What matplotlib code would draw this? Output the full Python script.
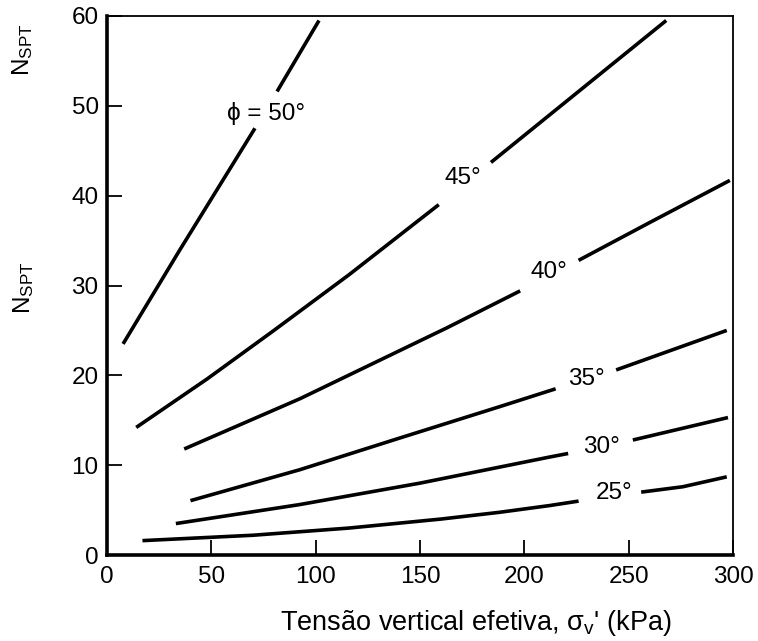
import numpy as np
import matplotlib.pyplot as plt

plt.rcParams['font.family'] = ['Liberation Sans', 'DejaVu Sans']
plt.rcParams['mathtext.fontset'] = 'custom'
plt.rcParams['mathtext.rm'] = 'Liberation Sans'
plt.rcParams['mathtext.it'] = 'Liberation Sans:italic'

# curves of N_SPT vs effective vertical stress, each split around its label
phi50_x = [[7.7, 35, 70.9], [81.5, 101.6]]
phi50_y = [[23.5, 34, 47.5], [51.6, 59.5]]
phi45_x = [[14, 48, 80, 116, 159], [184, 268]]
phi45_y = [[14.2, 19.6, 25.0, 31.2, 39.0], [43.7, 59.5]]
phi40_x = [[37, 92.5, 163, 198], [226, 260, 298.5]]
phi40_y = [[11.8, 17.4, 25.3, 29.4], [32.8, 37.0, 41.7]]
phi35_x = [[40, 92.5, 140, 188, 215], [244, 297]]
phi35_y = [[6.05, 9.5, 13.0, 16.5, 18.5], [20.6, 25]]
phi30_x = [[33, 92, 150, 212, 221], [252, 297.6]]
phi30_y = [[3.5, 5.6, 8.0, 10.9, 11.3], [12.8, 15.3]]
phi25_x = [[17, 70, 116, 160, 188, 212, 226], [256, 276, 297]]
phi25_y = [[1.6, 2.2, 3.0, 4.0, 4.75, 5.5, 6.0], [7.0, 7.6, 8.7]]

labels = ['\u03d5 = 50\u00b0', '45\u00b0', '40\u00b0', '35\u00b0', '30\u00b0', '25\u00b0']
label_x = [76, 170.6, 212, 230, 237, 243]
label_y = [49.2, 42, 31.5, 19.6, 12, 6.9]

xticks = [0, 50, 100, 150, 200, 250, 300]
yticks = [0, 10, 20, 30, 40, 50, 60]

fig = plt.figure(figsize=(7.58, 6.41), dpi=100)
ax = fig.add_axes([107/758, 1 - 555/641, 626/758, 539/641])

for xs, ys in [(phi50_x, phi50_y), (phi45_x, phi45_y), (phi40_x, phi40_y),
               (phi35_x, phi35_y), (phi30_x, phi30_y), (phi25_x, phi25_y)]:
    for sx, sy in zip(xs, ys):
        ax.plot(sx, sy, color='black', lw=2.6, solid_capstyle='butt')

for t, lx, ly in zip(labels, label_x, label_y):
    ax.text(lx, ly, t, fontsize=17.5, ha='center', va='center')

ax.set_xlim(0, 300)
ax.set_ylim(0, 60)
ax.set_xticks(xticks)
ax.set_yticks(yticks)
ax.tick_params(axis='both', direction='in', length=11, width=1.3, labelsize=17.5)
ax.tick_params(axis='x', pad=8)
ax.tick_params(axis='y', pad=6)
ax.spines['left'].set_linewidth(2.6)
ax.spines['bottom'].set_linewidth(2.6)
ax.spines['top'].set_linewidth(1.3)
ax.spines['right'].set_linewidth(1.3)

ax.set_ylabel(r'N$_\mathrm{SPT}$', fontsize=17.5)
ax.yaxis.set_label_coords(-(107 - 36) / 626, (555 - 288) / 539)
fig.text(23/758, 1 - 50/641, r'N$_\mathrm{SPT}$', fontsize=17.5, rotation=90,
         ha='center', va='center')

fig.text(476/758, 1 - 623/641, "Tens\u00e3o vertical efetiva, \u03c3$_\\mathrm{v}$' (kPa)",
         fontsize=19.5, ha='center', va='center')

fig.savefig('out.png', dpi=100)
